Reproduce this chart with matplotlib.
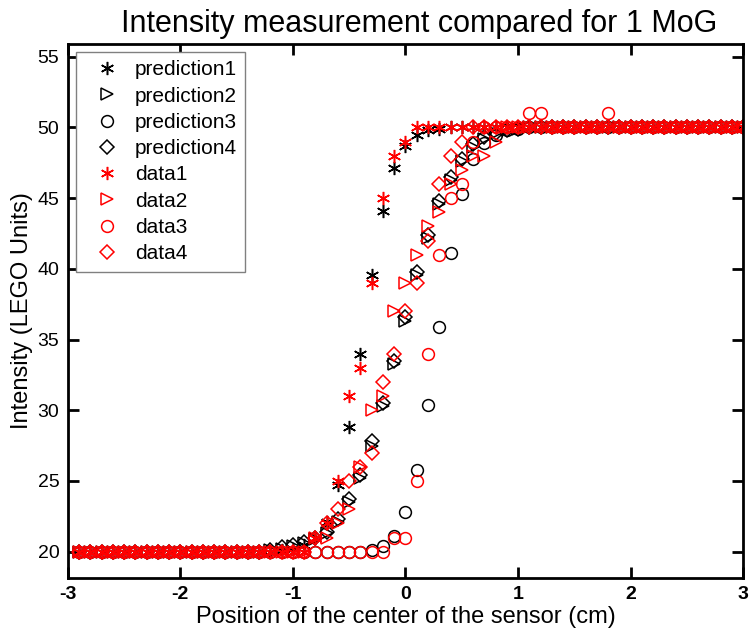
import numpy as np
import matplotlib
matplotlib.use("Agg")
import matplotlib.pyplot as plt

plt.rcParams['font.family'] = ['Liberation Sans', 'DejaVu Sans']
plt.rcParams['axes.unicode_minus'] = False

# x positions (cm), regular 0.1 grid from -2.9 to 3.0
x = np.round(np.arange(-2.9, 3.05, 0.1), 1)

prediction1 = [20.0, 20.0, 20.0, 20.0, 20.0, 20.0, 20.0, 20.0, 20.0, 20.0,
               20.0, 20.0, 20.0, 20.0, 20.0, 20.0, 20.0, 20.0, 20.1, 20.2,
               20.5, 21.0, 22.1, 24.7, 28.8, 34.0, 39.6, 44.1, 47.1, 48.7,
               49.5, 49.8, 49.9, 50.0, 50.0, 50.0, 50.0, 50.0, 50.0, 50.0,
               50.0, 50.0, 50.0, 50.0, 50.0, 50.0, 50.0, 50.0, 50.0, 50.0,
               50.0, 50.0, 50.0, 50.0, 50.0, 50.0, 50.0, 50.0, 50.0, 50.0]
prediction2 = [20.0, 20.0, 20.0, 20.0, 20.0, 20.0, 20.0, 20.0, 20.0, 20.0,
               20.0, 20.0, 20.0, 20.0, 20.0, 20.0, 20.0, 20.1, 20.2, 20.4,
               20.6, 20.9, 21.3, 22.1, 23.5, 25.2, 27.5, 30.3, 33.3, 36.3,
               39.6, 42.2, 44.6, 46.3, 47.6, 48.6, 49.2, 49.6, 49.8, 49.9,
               50.0, 50.0, 50.0, 50.0, 50.0, 50.0, 50.0, 50.0, 50.0, 50.0,
               50.0, 50.0, 50.0, 50.0, 50.0, 50.0, 50.0, 50.0, 50.0, 50.0]
prediction3 = [20.0, 20.0, 20.0, 20.0, 20.0, 20.0, 20.0, 20.0, 20.0, 20.0,
               20.0, 20.0, 20.0, 20.0, 20.0, 20.0, 20.0, 20.0, 20.0, 20.0,
               20.0, 20.0, 20.0, 20.0, 20.0, 20.0, 20.1, 20.4, 21.1, 22.8,
               25.8, 30.4, 35.9, 41.1, 45.3, 47.8, 48.9, 49.5, 49.8, 49.9,
               50.0, 50.0, 50.0, 50.0, 50.0, 50.0, 50.0, 50.0, 50.0, 50.0,
               50.0, 50.0, 50.0, 50.0, 50.0, 50.0, 50.0, 50.0, 50.0, 50.0]
prediction4 = [20.0, 20.0, 20.0, 20.0, 20.0, 20.0, 20.0, 20.0, 20.0, 20.0,
               20.0, 20.0, 20.0, 20.0, 20.0, 20.0, 20.0, 20.1, 20.3, 20.5,
               20.7, 21.0, 21.4, 22.3, 23.7, 25.4, 27.8, 30.5, 33.5, 36.6,
               39.8, 42.4, 44.8, 46.5, 47.8, 48.8, 49.3, 49.6, 49.8, 49.9,
               50.0, 50.0, 50.0, 50.0, 50.0, 50.0, 50.0, 50.0, 50.0, 50.0,
               50.0, 50.0, 50.0, 50.0, 50.0, 50.0, 50.0, 50.0, 50.0, 50.0]

data1 = [20, 20, 20, 20, 20, 20, 20, 20, 20, 20,
         20, 20, 20, 20, 20, 20, 20, 20, 20, 20,
         20, 21, 22, 25, 31, 33, 39, 45, 48, 49,
         50, 50, 50, 50, 50, 50, 50, 50, 50, 50,
         50, 50, 50, 50, 50, 50, 50, 50, 50, 50,
         50, 50, 50, 50, 50, 50, 50, 50, 50, 50]
data2 = [20, 20, 20, 20, 20, 20, 20, 20, 20, 20,
         20, 20, 20, 20, 20, 20, 20, 20, 20, 20,
         20, 21, 21, 22, 23, 26, 30, 31, 37, 39,
         41, 43, 44, 46, 47, 48, 48, 49, 50, 50,
         50, 50, 50, 50, 50, 50, 50, 50, 50, 50,
         50, 50, 50, 50, 50, 50, 50, 50, 50, 50]
data3 = [20, 20, 20, 20, 20, 20, 20, 20, 20, 20,
         20, 20, 20, 20, 20, 20, 20, 20, 20, 20,
         20, 20, 20, 20, 20, 20, 20, 20, 21, 21,
         25, 34, 41, 45, 46, 49, 50, 50, 50, 50,
         51, 51, 50, 50, 50, 50, 50, 51, 50, 50,
         50, 50, 50, 50, 50, 50, 50, 50, 50, 50]
data4 = [20, 20, 20, 20, 20, 20, 20, 20, 20, 20,
         20, 20, 20, 20, 20, 20, 20, 20, 20, 20,
         20, 21, 22, 23, 25, 26, 27, 32, 34, 37,
         39, 42, 46, 48, 49, 50, 50, 50, 50, 50,
         50, 50, 50, 50, 50, 50, 50, 50, 50, 50,
         50, 50, 50, 50, 50, 50, 50, 50, 50, 50]

series_labels = ['prediction1', 'prediction2', 'prediction3', 'prediction4',
                 'data1', 'data2', 'data3', 'data4']
x_ticks = [-3, -2, -1, 0, 1, 2, 3]
y_ticks = [20, 25, 30, 35, 40, 45, 50, 55]

fig = plt.figure(figsize=(7.5, 6.36), dpi=100)
ax = fig.add_axes([0.0903, 0.0917, 0.9007, 0.8391])

asterisk = (6, 2, 0)
styles = [
    (prediction1, asterisk, 'black', 9.5),
    (prediction2, '>', 'black', 8.5),
    (prediction3, 'o', 'black', 8.5),
    (prediction4, 'D', 'black', 7.4),
    (data1, asterisk, 'red', 9.5),
    (data2, '>', 'red', 8.5),
    (data3, 'o', 'red', 8.5),
    (data4, 'D', 'red', 7.4),
]
for (vals, m, c, ms), lab in zip(styles, series_labels):
    ax.plot(x, vals, linestyle='none', marker=m, markersize=ms,
            markerfacecolor='none', markeredgecolor=c, markeredgewidth=1.1,
            color=c, label=lab)

ax.set_xlim(-3, 3)
ax.set_ylim(18.16, 55.9)
ax.set_xticks(x_ticks)
ax.set_xticklabels([str(t) for t in x_ticks], fontweight='bold')
ax.set_yticks(y_ticks)
ax.tick_params(direction='in', length=8, width=2, top=True, right=True,
               labelsize=14, pad=6)
for s in ax.spines.values():
    s.set_linewidth(2)

ax.set_xlabel('Position of the center of the sensor (cm)', fontsize=17, labelpad=2)
ax.set_ylabel('Intensity (LEGO Units)', fontsize=17, labelpad=3)
ax.set_title('Intensity measurement compared for 1 MoG', fontsize=22, pad=9,
             x=0.52)

leg = ax.legend(loc='upper left', fontsize=15, frameon=True, fancybox=False,
                edgecolor='#808080', framealpha=1, borderpad=0.4,
                labelspacing=0.35, handlelength=2.2, handletextpad=0.25,
                borderaxespad=0.38)
leg.get_frame().set_linewidth(1.0)

fig.savefig('out.png', dpi=100)
